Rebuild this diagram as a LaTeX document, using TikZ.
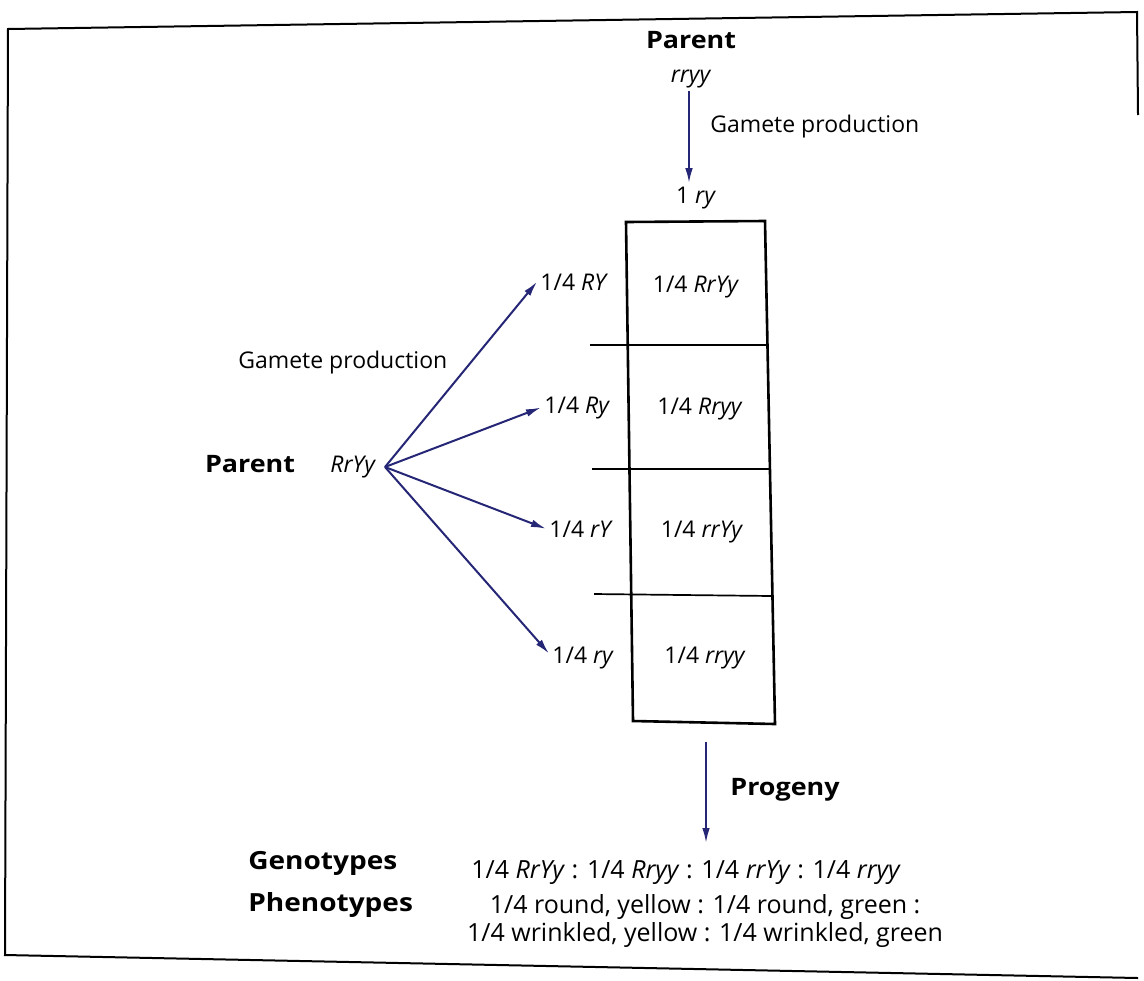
\documentclass[tikz,border=0pt]{standalone}
\usepackage{fontspec}
\setmainfont{Open Sans}
\newfontfamily\heavy{Open Sans}[FakeStretch=1.12]
\usetikzlibrary{arrows.meta}
\definecolor{arrowblue}{RGB}{38,38,118}
\tikzset{
  lbl/.style={inner sep=1.5pt, font=\fontsize{11.5}{14}\selectfont},
  big/.style={inner sep=1.5pt, font=\fontsize{12.5}{14}\selectfont},
  hd/.style={inner sep=1.5pt, font=\fontsize{12}{14}\selectfont\heavy\bfseries},
  bighd/.style={inner sep=1.5pt, font=\fontsize{12.5}{14}\selectfont\heavy\bfseries},
  arr/.style={draw=arrowblue, line width=1pt, -{Latex[length=7.5pt,width=3.8pt]}},
  cellline/.style={line width=1.3pt, line join=miter},
  rowrule/.style={line width=0.85pt},
  frameline/.style={line width=1pt, line join=miter},
}
\begin{document}
\begin{tikzpicture}[x={(0.5pt,0)}, y={(0,-0.5pt)}]
\useasboundingbox (0,0) rectangle (1144,980);

% page frame
\coordinate (fTL) at (8,29);
\coordinate (fTR) at (1137,12);
\coordinate (fR) at (1138,115);
\coordinate (fBL) at (5,955);
\coordinate (fBR) at (1138,978);
\draw[frameline] (fR) -- (fTR) -- (fTL) -- (fBL) -- (fBR);

% upper parent and its gamete
\node[hd, anchor=base] (ptop) at (691,48) {Parent};
\node[lbl, anchor=base] (gtop) at (691,82) {\textit{rryy}};
\node[lbl, anchor=base] (g1) at (696,203) {1 \textit{ry}};
\node[lbl, anchor=base west] (gp1) at (707,132) {Gamete production};
\draw[arr] ([xshift=-1pt]gtop.south) -- ([xshift=-1pt]gtop.south |- g1.north);

% Punnett column
\coordinate (bTL) at (626,222);
\coordinate (bTR) at (765,221);
\coordinate (bBR) at (775,724);
\coordinate (bBL) at (633,721);
\draw[cellline] (bTL) -- (bTR) -- (bBR) -- (bBL) -- cycle;
\coordinate (r1a) at (590,345); \coordinate (r1b) at (766,345);
\coordinate (r2a) at (592,469); \coordinate (r2b) at (769,469);
\coordinate (r3a) at (594,594); \coordinate (r3b) at (772,596);
\draw[rowrule] (r1a) -- (r1b);
\draw[rowrule] (r2a) -- (r2b);
\draw[rowrule] (r3a) -- (r3b);

\node[lbl, anchor=base] (c1) at (696,292) {1/4 \textit{RrYy}};
\node[lbl, anchor=base] (c2) at (700,414) {1/4 \textit{Rryy}};
\node[lbl, anchor=base] (c3) at (702,537) {1/4 \textit{rrYy}};
\node[lbl, anchor=base] (c4) at (705,663) {1/4 \textit{rryy}};

% gametes of the left parent
\node[lbl, anchor=base west] (l1) at (537,290) {1/4 \textit{RY}};
\node[lbl, anchor=base west] (l2) at (541,413) {1/4 \textit{Ry}};
\node[lbl, anchor=base west] (l3) at (546,537) {1/4 \textit{rY}};
\node[lbl, anchor=base west] (l4) at (549,663) {1/4 \textit{ry}};

% left parent
\node[hd, anchor=base] (pleft) at (250,472) {Parent};
\node[lbl, anchor=base west] (gleft) at (327,472) {\textit{RrYy}};
\node[lbl, anchor=base west] (gp2) at (235,368) {Gamete production};
\coordinate (o) at (385,467);
\draw[arr] (o) -- (l1.west);
\draw[arr] (o) -- (l2.west);
\draw[arr] (o) -- (l3.west);
\draw[arr] (o) -- ([yshift=2pt]l4.west);

% progeny
\coordinate (pa) at (706,742);
\coordinate (pb) at (706,843);
\draw[arr] (pa) -- (pb);
\node[hd, anchor=base west] (prog) at (727,795) {Progeny};

\node[bighd, anchor=base west] (geno) at (245,869) {Genotypes};
\node[big, anchor=base west] (genoline) at (468,878)
  {1/4 \textit{RrYy} : 1/4 \textit{Rryy} : 1/4 \textit{rrYy} : 1/4 \textit{rryy}};
\node[bighd, anchor=base west] (pheno) at (245,911) {Phenotypes};
\node[big, anchor=base, align=center] (phenoline) at (705,941)
  {1/4 round, yellow : 1/4 round, green :\\1/4 wrinkled, yellow : 1/4 wrinkled, green};
\end{tikzpicture}
\end{document}
